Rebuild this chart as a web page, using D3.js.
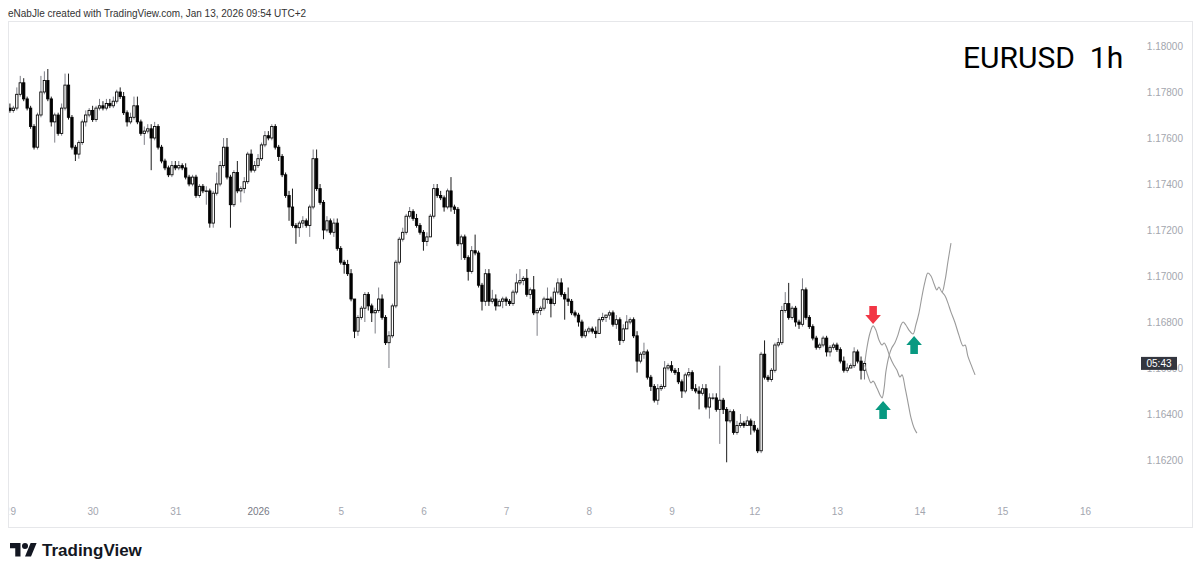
<!DOCTYPE html>
<html>
<head>
<meta charset="utf-8">
<script src="https://cdn.jsdelivr.net/npm/d3@7/dist/d3.min.js"></script>
<style>
  html, body { margin: 0; padding: 0; background: #fff; }
  svg { display: block; }
</style>
</head>
<body>
<div id="chart"></div>
<script>
// EURUSD 1h candles, 29 Dec 2025 00:00 -> 13 Jan 2026 08:00 (one row per trading day)
var opens = [
  1.1773,1.1772,1.1773,1.1779,1.1784,1.1777,1.1773,1.1765,1.1756,1.1770,1.1780,1.1785,1.1777,1.1767,1.1770,1.1762,1.1773,1.1783,1.1769,1.1756,1.1753,1.1758,1.1767,1.1770,
  1.1772,1.1768,1.1773,1.1774,1.1773,1.1775,1.1774,1.1776,1.1780,1.1778,1.1771,1.1767,1.1769,1.1774,1.1767,1.1762,1.1763,1.1764,1.1760,1.1765,1.1756,1.1750,1.1747,1.1744,
  1.1748,1.1747,1.1748,1.1747,1.1743,1.1740,1.1743,1.1735,1.1739,1.1737,1.1737,1.1723,1.1736,1.1740,1.1748,1.1756,1.1743,1.1731,1.1745,1.1737,1.1738,1.1741,1.1753,1.1746,
  1.1748,1.1751,1.1757,1.1761,1.1760,1.1765,1.1756,1.1752,1.1744,1.1735,1.1730,1.1722,1.1721,1.1723,1.1724,1.1722,1.1730,1.1751,1.1738,1.1732,1.1720,1.1724,1.1719,1.1723,
  1.1712,1.1706,1.1705,1.1701,1.1690,1.1676,1.1682,1.1686,1.1692,1.1687,1.1684,1.1685,1.1690,1.1682,1.1671,1.1674,1.1687,1.1706,1.1716,1.1719,1.1726,1.1728,1.1725,1.1722,
  1.1719,1.1715,1.1717,1.1726,1.1738,1.1735,1.1734,1.1730,1.1737,1.1730,1.1729,1.1714,1.1717,1.1708,1.1702,1.1711,1.1710,1.1696,1.1689,1.1701,1.1689,1.1690,1.1687,1.1689,
  1.1690,1.1689,1.1688,1.1693,1.1697,1.1698,1.1699,1.1692,1.1694,1.1684,1.1685,1.1686,1.1690,1.1690,1.1688,1.1693,1.1697,1.1692,1.1690,1.1689,1.1684,1.1683,1.1680,1.1674,
  1.1676,1.1677,1.1676,1.1675,1.1681,1.1682,1.1683,1.1684,1.1679,1.1681,1.1672,1.1677,1.1680,1.1681,1.1674,1.1663,1.1666,1.1667,1.1656,1.1652,1.1646,1.1651,1.1652,1.1660,
  1.1661,1.1659,1.1658,1.1654,1.1650,1.1657,1.1658,1.1651,1.1650,1.1649,1.1651,1.1643,1.1647,1.1647,1.1642,1.1646,1.1642,1.1637,1.1641,1.1632,1.1635,1.1636,1.1635,1.1637,
  1.1635,1.1633,1.1624,1.1666,1.1656,1.1655,1.1659,1.1670,1.1671,1.1685,1.1688,1.1682,1.1686,1.1680,1.1679,1.1694,1.1682,1.1678,1.1673,1.1669,1.1670,1.1673,1.1667,1.1669,
  1.1670,1.1668,1.1663,1.1659,1.1660,1.1661,1.1667,1.1663,1.1659
];
var highs = [
  1.1775,1.1774,1.1782,1.1787,1.1786,1.1778,1.1774,1.1766,1.1771,1.1787,1.1789,1.1790,1.1778,1.1771,1.1771,1.1775,1.1788,1.1788,1.1770,1.1757,1.1759,1.1768,1.1772,1.1773,
  1.1774,1.1774,1.1777,1.1776,1.1777,1.1777,1.1778,1.1781,1.1782,1.1780,1.1772,1.1771,1.1778,1.1778,1.1768,1.1765,1.1766,1.1766,1.1767,1.1766,1.1757,1.1751,1.1748,1.1750,
  1.1750,1.1750,1.1749,1.1749,1.1744,1.1744,1.1744,1.1740,1.1740,1.1739,1.1738,1.1737,1.1745,1.1750,1.1760,1.1760,1.1744,1.1746,1.1750,1.1739,1.1743,1.1754,1.1755,1.1750,
  1.1753,1.1758,1.1763,1.1763,1.1766,1.1766,1.1757,1.1753,1.1745,1.1737,1.1738,1.1723,1.1724,1.1726,1.1725,1.1731,1.1755,1.1755,1.1740,1.1733,1.1726,1.1725,1.1725,1.1725,
  1.1713,1.1707,1.1707,1.1703,1.1690,1.1683,1.1687,1.1693,1.1693,1.1688,1.1686,1.1695,1.1692,1.1683,1.1676,1.1688,1.1707,1.1717,1.1721,1.1727,1.1730,1.1729,1.1727,1.1723,
  1.1720,1.1719,1.1727,1.1740,1.1740,1.1737,1.1735,1.1738,1.1743,1.1731,1.1730,1.1718,1.1718,1.1709,1.1713,1.1718,1.1711,1.1697,1.1703,1.1703,1.1694,1.1692,1.1690,1.1691,
  1.1691,1.1690,1.1694,1.1701,1.1703,1.1700,1.1703,1.1695,1.1700,1.1686,1.1687,1.1691,1.1695,1.1691,1.1695,1.1699,1.1699,1.1693,1.1695,1.1690,1.1685,1.1684,1.1681,1.1677,
  1.1678,1.1678,1.1678,1.1682,1.1684,1.1683,1.1685,1.1685,1.1683,1.1682,1.1679,1.1683,1.1682,1.1682,1.1676,1.1667,1.1671,1.1668,1.1657,1.1653,1.1653,1.1653,1.1663,1.1662,
  1.1663,1.1660,1.1660,1.1655,1.1658,1.1660,1.1659,1.1653,1.1652,1.1653,1.1653,1.1649,1.1649,1.1649,1.1661,1.1647,1.1643,1.1642,1.1642,1.1637,1.1640,1.1637,1.1639,1.1638,
  1.1637,1.1634,1.1667,1.1672,1.1657,1.1660,1.1671,1.1673,1.1687,1.1693,1.1697,1.1687,1.1687,1.1681,1.1699,1.1695,1.1683,1.1679,1.1674,1.1671,1.1674,1.1674,1.1670,1.1671,
  1.1671,1.1669,1.1665,1.1662,1.1662,1.1669,1.1668,1.1665,1.1663
];
var lows = [
  1.1771,1.1771,1.1772,1.1778,1.1776,1.1772,1.1764,1.1755,1.1755,1.1769,1.1779,1.1776,1.1765,1.1758,1.1761,1.1761,1.1772,1.1768,1.1755,1.1750,1.1751,1.1757,1.1765,1.1769,
  1.1767,1.1767,1.1772,1.1772,1.1772,1.1773,1.1773,1.1775,1.1777,1.1770,1.1765,1.1766,1.1768,1.1766,1.1761,1.1757,1.1762,1.1746,1.1759,1.1755,1.1749,1.1746,1.1743,1.1743,
  1.1746,1.1746,1.1746,1.1742,1.1739,1.1739,1.1734,1.1734,1.1736,1.1731,1.1721,1.1721,1.1735,1.1739,1.1747,1.1742,1.1721,1.1730,1.1736,1.1732,1.1736,1.1740,1.1745,1.1745,
  1.1747,1.1750,1.1756,1.1759,1.1759,1.1755,1.1750,1.1743,1.1734,1.1724,1.1721,1.1714,1.1717,1.1721,1.1721,1.1717,1.1729,1.1737,1.1731,1.1716,1.1719,1.1718,1.1717,1.1711,
  1.1705,1.1701,1.1700,1.1689,1.1673,1.1674,1.1681,1.1680,1.1685,1.1680,1.1675,1.1684,1.1681,1.1670,1.1660,1.1673,1.1686,1.1705,1.1715,1.1718,1.1725,1.1724,1.1721,1.1718,
  1.1711,1.1713,1.1717,1.1725,1.1734,1.1733,1.1728,1.1729,1.1728,1.1727,1.1713,1.1707,1.1707,1.1698,1.1701,1.1709,1.1695,1.1685,1.1687,1.1687,1.1688,1.1685,1.1687,1.1686,
  1.1687,1.1687,1.1687,1.1692,1.1696,1.1696,1.1691,1.1690,1.1683,1.1674,1.1683,1.1685,1.1688,1.1682,1.1687,1.1692,1.1691,1.1681,1.1687,1.1683,1.1682,1.1678,1.1673,1.1673,
  1.1675,1.1675,1.1673,1.1675,1.1680,1.1680,1.1681,1.1678,1.1677,1.1670,1.1671,1.1677,1.1679,1.1673,1.1658,1.1662,1.1664,1.1655,1.1650,1.1645,1.1644,1.1650,1.1651,1.1659,
  1.1658,1.1657,1.1653,1.1647,1.1649,1.1656,1.1650,1.1649,1.1642,1.1648,1.1642,1.1638,1.1646,1.1641,1.1627,1.1640,1.1619,1.1636,1.1631,1.1631,1.1634,1.1634,1.1635,1.1631,
  1.1632,1.1623,1.1623,1.1655,1.1654,1.1654,1.1658,1.1669,1.1670,1.1684,1.1681,1.1681,1.1678,1.1677,1.1678,1.1681,1.1677,1.1672,1.1668,1.1668,1.1669,1.1665,1.1665,1.1668,
  1.1667,1.1662,1.1658,1.1658,1.1660,1.1660,1.1662,1.1655,1.1655
];
var closes = [
  1.1772,1.1773,1.1779,1.1784,1.1777,1.1773,1.1765,1.1756,1.1770,1.1780,1.1785,1.1777,1.1767,1.1770,1.1762,1.1773,1.1783,1.1769,1.1756,1.1753,1.1758,1.1767,1.1770,1.1772,
  1.1768,1.1773,1.1774,1.1773,1.1775,1.1774,1.1776,1.1780,1.1778,1.1771,1.1767,1.1769,1.1774,1.1767,1.1762,1.1763,1.1764,1.1760,1.1765,1.1756,1.1750,1.1747,1.1744,1.1748,
  1.1747,1.1748,1.1747,1.1743,1.1740,1.1743,1.1735,1.1739,1.1737,1.1737,1.1723,1.1736,1.1740,1.1748,1.1756,1.1743,1.1731,1.1745,1.1737,1.1738,1.1741,1.1753,1.1746,1.1748,
  1.1751,1.1757,1.1761,1.1760,1.1765,1.1756,1.1752,1.1744,1.1735,1.1730,1.1722,1.1721,1.1723,1.1724,1.1722,1.1730,1.1751,1.1738,1.1732,1.1720,1.1724,1.1719,1.1723,1.1712,
  1.1706,1.1705,1.1701,1.1690,1.1676,1.1682,1.1686,1.1692,1.1687,1.1684,1.1685,1.1690,1.1682,1.1671,1.1674,1.1687,1.1706,1.1716,1.1719,1.1726,1.1728,1.1725,1.1722,1.1719,
  1.1715,1.1717,1.1726,1.1738,1.1735,1.1734,1.1730,1.1737,1.1730,1.1729,1.1714,1.1717,1.1708,1.1702,1.1711,1.1710,1.1696,1.1689,1.1701,1.1689,1.1690,1.1687,1.1689,1.1690,
  1.1689,1.1688,1.1693,1.1697,1.1698,1.1699,1.1692,1.1694,1.1684,1.1685,1.1686,1.1690,1.1690,1.1688,1.1693,1.1697,1.1692,1.1690,1.1689,1.1684,1.1683,1.1680,1.1674,1.1676,
  1.1677,1.1676,1.1675,1.1681,1.1682,1.1683,1.1684,1.1679,1.1681,1.1672,1.1677,1.1680,1.1681,1.1674,1.1663,1.1666,1.1667,1.1656,1.1652,1.1646,1.1651,1.1652,1.1660,1.1661,
  1.1659,1.1658,1.1654,1.1650,1.1657,1.1658,1.1651,1.1650,1.1649,1.1651,1.1643,1.1647,1.1647,1.1642,1.1646,1.1642,1.1637,1.1641,1.1632,1.1635,1.1636,1.1635,1.1637,1.1635,
  1.1633,1.1624,1.1666,1.1656,1.1655,1.1659,1.1670,1.1671,1.1685,1.1688,1.1682,1.1686,1.1680,1.1679,1.1694,1.1682,1.1678,1.1673,1.1669,1.1670,1.1673,1.1667,1.1669,1.1670,
  1.1668,1.1663,1.1659,1.1660,1.1661,1.1667,1.1663,1.1659,1.1662
];

// hand-drawn projection paths: [bar index, price]
var pathDown = [[248.1,1.16622],[248.7,1.16687],[249.6,1.16752],[250.5,1.16783],[251.3,1.16765],[252.2,1.16722],[253.1,1.16700],[253.7,1.16709],[254.5,1.16687],[255.4,1.16648],[256.5,1.16613],[257.4,1.16591],[258.3,1.16561],[258.9,1.16570],[259.8,1.16513],[260.6,1.16452],[261.5,1.16383],[262.4,1.16339],[263.2,1.16317]];
var pathUp = [[248.1,1.16613],[249.0,1.16565],[249.9,1.16535],[250.5,1.16543],[251.6,1.16513],[252.5,1.16483],[253.1,1.16470],[253.7,1.16513],[254.2,1.16583],[255.1,1.16652],[255.9,1.16687],[256.8,1.16709],[257.7,1.16743],[258.6,1.16787],[259.2,1.16800],[260.0,1.16787],[260.9,1.16765],[262.1,1.16748],[262.9,1.16787],[263.8,1.16839],[264.7,1.16913],[265.6,1.16978],[266.4,1.17013],[267.3,1.17000],[268.2,1.16965],[269.0,1.16939],[269.6,1.16952],[270.5,1.16930],[271.4,1.16983],[272.2,1.17061],[273.1,1.17143]];
var pathBranch = [[270.5,1.16930],[271.4,1.16913],[272.2,1.16883],[273.1,1.16843],[274.2,1.16800],[275.4,1.16743],[276.6,1.16696],[277.2,1.16700],[278.0,1.16652],[279.2,1.16604],[280.1,1.16570]];

// arrow markers (tip position)
var arrowBars = [250.5, 253.4, 262.4];
var arrowPrices = [1.16791, 1.16457, 1.16739];
var arrowDirs = ["down", "up", "up"];

var dayLabels = ["29","30","31","2026","5","6","7","8","9","12","13","14","15","16"];
var barsPerDay = 24;
var priceTicks = [1.162,1.164,1.166,1.168,1.170,1.172,1.174,1.176,1.178,1.180];
var countdown = "05:43";

var width = 1200, height = 574;
var pane = {left: 8, top: 21, right: 1192, bottom: 527};

var svg = d3.select("#chart").append("svg")
  .attr("width", width).attr("height", height)
  .style("font-family", "'Liberation Sans', Arial, sans-serif");

var x = d3.scaleLinear().domain([0, barsPerDay]).range([8.2, 8.2 + 82.7]);
var y = d3.scaleLinear().domain([1.162, 1.18]).range([460, 46]);
var barW = x(1) - x(0);
var cx = function(i) { return x(i + 0.5); };

// header
svg.append("text").attr("x", 8).attr("y", 16.5)
  .attr("font-size", 10).attr("fill", "#333")
  .text("eNabJle created with TradingView.com, Jan 13, 2026 09:54 UTC+2");

// frame
svg.append("rect")
  .attr("x", pane.left + 0.5).attr("y", pane.top + 0.5)
  .attr("width", pane.right - pane.left).attr("height", pane.bottom - pane.top)
  .attr("fill", "none").attr("stroke", "#e6e7ea");

svg.append("clipPath").attr("id", "plotclip").append("rect")
  .attr("x", pane.left + 1).attr("y", pane.top + 1)
  .attr("width", 1130).attr("height", pane.bottom - pane.top - 2);
svg.append("clipPath").attr("id", "timeclip").append("rect")
  .attr("x", 9.8).attr("y", 495).attr("width", 1120).attr("height", 30);

// price axis
var yAxis = d3.axisLeft(y).tickValues(priceTicks).tickFormat(d3.format(".5f"))
  .tickSize(0).tickPadding(0);
var gy = svg.append("g").attr("transform", "translate(1183,0)").call(yAxis);
gy.select(".domain").remove();
gy.selectAll("text").attr("font-size", 10).attr("fill", "#a3a6ae")
  .attr("font-family", "'Liberation Sans', Arial, sans-serif");

// time axis (clip on an outer group so the clip box is not shifted)
var dayTicks = dayLabels.map(function(d, k) { return k * barsPerDay + 0.5; });
var xAxis = d3.axisBottom(x).tickValues(dayTicks)
  .tickFormat(function(d, k) { return dayLabels[k]; })
  .tickSize(0).tickPadding(0);
var gx = svg.append("g").attr("clip-path", "url(#timeclip)")
  .append("g").attr("transform", "translate(0,508)").call(xAxis);
gx.select(".domain").remove();
gx.selectAll("text").attr("font-size", 10)
  .attr("font-family", "'Liberation Sans', Arial, sans-serif")
  .attr("fill", function(d, k) { return dayLabels[k] === "2026" ? "#787b86" : "#a3a6af"; });

// candles
var bars = d3.range(closes.length).map(function(i) {
  return {i: i, o: opens[i], h: highs[i], l: lows[i], c: closes[i]};
});
var gc = svg.append("g").attr("clip-path", "url(#plotclip)");
var candle = gc.selectAll("g.candle").data(bars).enter().append("g");
candle.append("line")
  .attr("x1", function(d) { return cx(d.i); }).attr("x2", function(d) { return cx(d.i); })
  .attr("y1", function(d) { return y(d.h); }).attr("y2", function(d) { return y(d.l); })
  .attr("stroke", function(d) { return d.c >= d.o ? "#6f7179" : "#000"; })
  .attr("stroke-width", 0.9);
candle.append("rect")
  .attr("x", function(d) { return cx(d.i) - barW * 0.34; })
  .attr("width", barW * 0.68)
  .attr("y", function(d) { return y(Math.max(d.o, d.c)); })
  .attr("height", function(d) { return Math.max(0.6, Math.abs(y(d.o) - y(d.c))); })
  .attr("fill", function(d) { return d.c >= d.o ? "#fff" : "#000"; })
  .attr("stroke", "#000").attr("stroke-width", 0.85);

// projection lines
var line = d3.line()
  .x(function(d) { return cx(d[0]); })
  .y(function(d) { return y(d[1]); })
  .curve(d3.curveCatmullRom.alpha(0.5));
[pathDown, pathUp, pathBranch].forEach(function(p) {
  svg.append("path").attr("d", line(p))
    .attr("fill", "none").attr("stroke", "#9a9a9a").attr("stroke-width", 1.1);
});

// arrows
arrowBars.forEach(function(b, k) {
  var tx = cx(b), ty = y(arrowPrices[k]);
  var s = arrowDirs[k] === "down" ? -1 : 1;
  var pts = [[0, 0], [7.8, 9 * s], [3.8, 9 * s], [3.8, 18 * s], [-3.8, 18 * s], [-3.8, 9 * s], [-7.8, 9 * s]];
  svg.append("path")
    .attr("d", "M" + pts.map(function(p) { return (tx + p[0]) + "," + (ty + p[1]); }).join("L") + "Z")
    .attr("fill", arrowDirs[k] === "down" ? "#f23645" : "#089981");
});

// title
svg.append("text").attr("x", 963).attr("y", 68)
  .attr("font-size", 30).attr("fill", "#000")
  .style("font-family", "Roboto, 'Liberation Sans', sans-serif")
  .style("white-space", "pre")
  .text("EURUSD  1h");

// countdown label on the last price
var lastY = y(closes[closes.length - 1]);
svg.append("rect").attr("x", 1141).attr("y", lastY - 6.5)
  .attr("width", 36).attr("height", 13).attr("fill", "#33363f");
svg.append("text").attr("x", 1159).attr("y", lastY + 3.5)
  .attr("text-anchor", "middle").attr("font-size", 10).attr("fill", "#fff")
  .text(countdown);

// TradingView logo
var logo = svg.append("g").attr("transform", "translate(10,540) scale(0.75)").attr("fill", "#131722");
logo.append("path").attr("d", "M14 22H7V11H0V4h14v18zM28 22h-8l7.5-18h8L28 22z");
logo.append("circle").attr("cx", 20).attr("cy", 8).attr("r", 4);
svg.append("text").attr("x", 42).attr("y", 556)
  .attr("font-size", 17).attr("font-weight", "bold").attr("fill", "#131722")
  .text("TradingView");
</script>
</body>
</html>
